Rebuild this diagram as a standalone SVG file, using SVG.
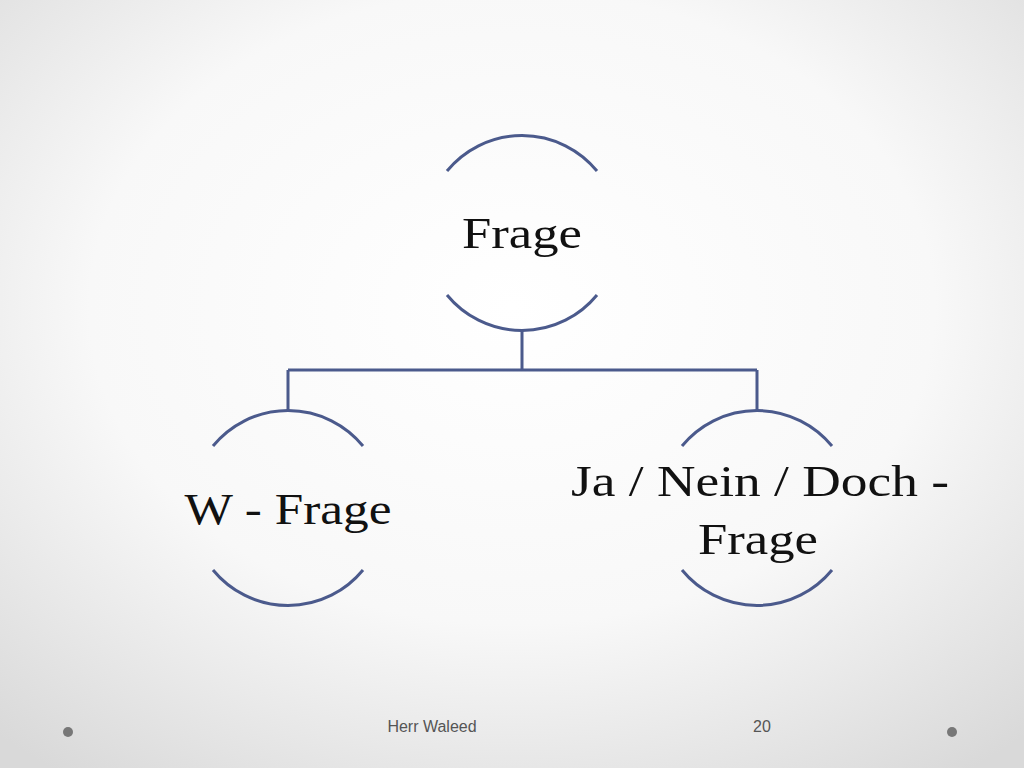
<svg xmlns="http://www.w3.org/2000/svg" width="1024" height="768" viewBox="0 0 1024 768">
<defs>
<radialGradient id="bg" cx="50%" cy="40%" r="75%">
<stop offset="0" stop-color="#ffffff"/><stop offset="0.55" stop-color="#f8f8f8"/><stop offset="1" stop-color="#d9d9d9"/>
</radialGradient>
<style>
.arc{fill:none;stroke:#4b5a8c;stroke-width:3}
.t{font-family:"Palatino Linotype","URW Palladio L","Liberation Serif",serif;font-size:44px;fill:#111;text-anchor:middle}
.f{font-family:"Liberation Sans",Arial,sans-serif;font-size:16px;fill:#555;text-anchor:middle}
</style>
</defs>
<rect width="1024" height="768" fill="url(#bg)"/>
<g id="connectors"><path class="arc" d="M522 330 V370 M288 370 H757 M288 370 V411 M757 370 V411"/></g>
<g id="n-frage">
<path class="arc" d="M447 171 A97 97 0 0 1 597 171 M447 295 A97 97 0 0 0 597 295"/>
<text class="t" x="522" y="248" textLength="120" lengthAdjust="spacingAndGlyphs">Frage</text></g>
<g id="n-w">
<path class="arc" d="M213 446 A97 97 0 0 1 363 446 M213 570 A97 97 0 0 0 363 570"/>
<text class="t" x="288" y="524" textLength="207" lengthAdjust="spacingAndGlyphs">W - Frage</text></g>
<g id="n-ja">
<path class="arc" d="M682 446 A97 97 0 0 1 832 446 M682 570 A97 97 0 0 0 832 570"/>
<text class="t" x="760" y="496" textLength="378" lengthAdjust="spacingAndGlyphs">Ja / Nein / Doch -</text>
<text class="t" x="758" y="554" textLength="120" lengthAdjust="spacingAndGlyphs">Frage</text></g>
<text class="f" x="432" y="732">Herr Waleed</text>
<text class="f" x="762" y="732">20</text>
<circle cx="68" cy="732" r="5" fill="#777"/><circle cx="952" cy="732" r="5" fill="#777"/>
</svg>
